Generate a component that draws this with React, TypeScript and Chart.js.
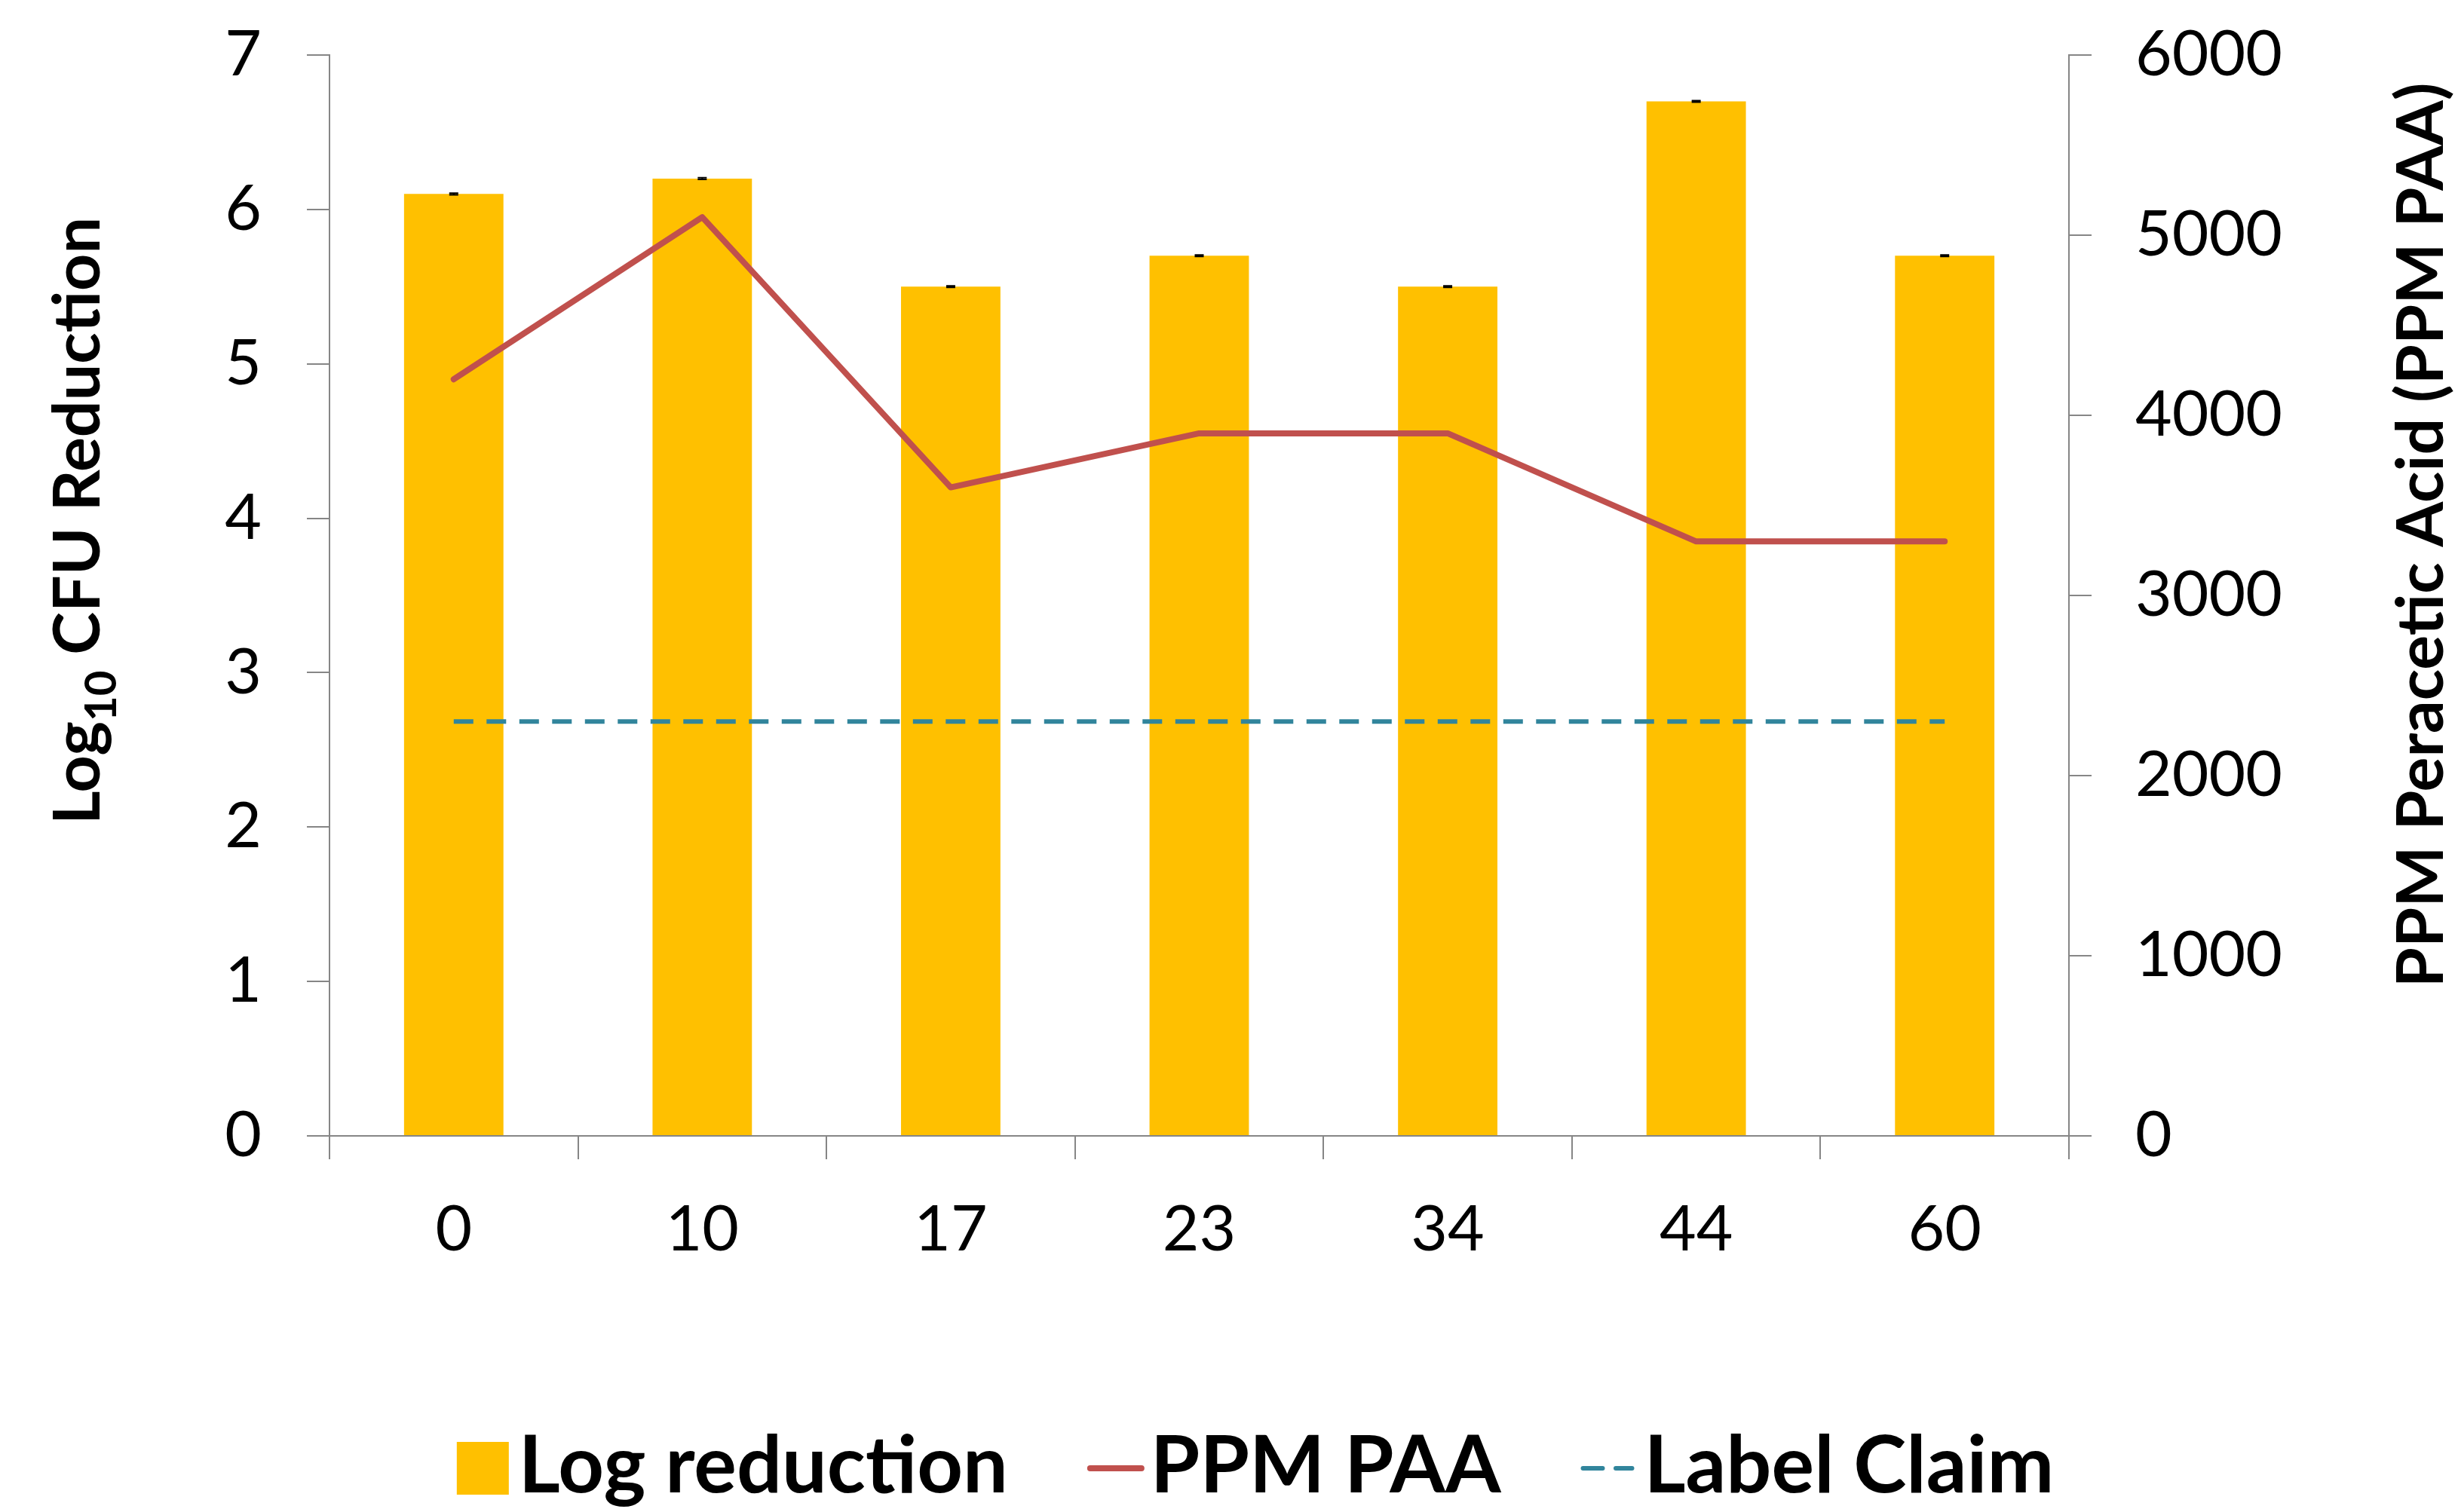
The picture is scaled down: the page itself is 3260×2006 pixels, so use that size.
import React, { useEffect, useRef } from 'react';
import { Chart, registerables } from 'chart.js';

Chart.register(...registerables);

const categories = ['0', '10', '17', '23', '34', '44', '60'];
const logReduction = [6.1, 6.2, 5.5, 5.7, 5.5, 6.7, 5.7];
const logReductionError = [0.005, 0.005, 0.005, 0.005, 0.005, 0.005, 0.005];
const ppmPAA = [4200, 5100, 3600, 3900, 3900, 3300, 3300];
const labelClaim = [2300, 2300, 2300, 2300, 2300, 2300, 2300];

const seriesNames = ['Log reduction', 'PPM PAA', 'Label Claim'];
const leftTitleParts = ['Log', '10', ' CFU Reduction'];
const rightTitle = 'PPM Peracetic Acid (PPM PAA)';

const FONT = 'Lato';
const BAR_COLOR = '#FFC000';
const LINE_COLOR = '#C0504D';
const CLAIM_COLOR = '#31859C';
const AXIS_COLOR = '#868686';

const errorBarsPlugin = {
  id: 'errorBars',
  afterDatasetsDraw(chart: any) {
    const ctx = chart.ctx;
    const meta = chart.getDatasetMeta(0);
    const y = chart.scales.y;
    ctx.save();
    ctx.strokeStyle = '#000';
    ctx.lineWidth = 2;
    meta.data.forEach((bar: any, i: number) => {
      const v = logReduction[i];
      const e = logReductionError[i];
      const yTop = y.getPixelForValue(v + e);
      const yBot = y.getPixelForValue(v - e);
      const half = 6;
      ctx.beginPath();
      ctx.moveTo(bar.x, yTop);
      ctx.lineTo(bar.x, yBot);
      ctx.moveTo(bar.x - half, yTop);
      ctx.lineTo(bar.x + half, yTop);
      ctx.moveTo(bar.x - half, yBot);
      ctx.lineTo(bar.x + half, yBot);
      ctx.stroke();
    });
    ctx.restore();
  },
};

const titlesPlugin = {
  id: 'axisTitles',
  afterDraw(chart: any) {
    const ctx = chart.ctx;
    ctx.save();
    ctx.fillStyle = '#000';
    ctx.textBaseline = 'alphabetic';
    ctx.textAlign = 'left';
    const mainFont = `bold 86px ${FONT}`;
    const subFont = `bold 58px ${FONT}`;
    ctx.font = mainFont;
    const w0 = ctx.measureText(leftTitleParts[0]).width;
    const w2 = ctx.measureText(leftTitleParts[2]).width;
    ctx.font = subFont;
    const w1 = ctx.measureText(leftTitleParts[1]).width;
    const total = w0 + w1 + w2;
    ctx.save();
    ctx.translate(132, 691);
    ctx.rotate(-Math.PI / 2);
    let x = -total / 2;
    ctx.font = mainFont;
    ctx.fillText(leftTitleParts[0], x, 0);
    x += w0;
    ctx.font = subFont;
    ctx.fillText(leftTitleParts[1], x, 22);
    x += w1;
    ctx.font = mainFont;
    ctx.fillText(leftTitleParts[2], x, 0);
    ctx.restore();
    ctx.save();
    ctx.translate(3240, 710);
    ctx.rotate(-Math.PI / 2);
    ctx.font = mainFont;
    ctx.textAlign = 'center';
    ctx.fillText(rightTitle, 0, 0);
    ctx.restore();
    ctx.restore();
  },
};

const legendPlugin = {
  id: 'customLegend',
  afterDraw(chart: any) {
    const ctx = chart.ctx;
    const ds = chart.data.datasets;
    ctx.save();
    ctx.font = `bold 106px ${FONT}`;
    ctx.textBaseline = 'alphabetic';
    ctx.fillStyle = '#000';
    const baseline = 1980;
    const midY = 1948;
    const symW = [69, 76, 73];
    const symGap = [13, 8, 12];
    const itemGap = 105;
    const textW = ds.map((d: any) => ctx.measureText(d.label).width);
    let total = 0;
    for (let i = 0; i < ds.length; i++) {
      total += symW[i] + symGap[i] + textW[i];
      if (i < ds.length - 1) total += itemGap;
    }
    let x = 1665 - total / 2;
    for (let i = 0; i < ds.length; i++) {
      const d = ds[i];
      if (i === 0) {
        ctx.fillStyle = d.backgroundColor;
        ctx.fillRect(x, 1913, symW[i], 70);
      } else {
        ctx.save();
        ctx.strokeStyle = d.borderColor;
        ctx.lineWidth = d.borderWidth;
        ctx.lineCap = 'round';
        ctx.setLineDash(d.borderDash || []);
        ctx.beginPath();
        ctx.moveTo(x + 4, midY);
        ctx.lineTo(x + symW[i] - 4, midY);
        ctx.stroke();
        ctx.restore();
      }
      x += symW[i] + symGap[i];
      ctx.fillStyle = '#000';
      ctx.fillText(d.label, x, baseline);
      x += textW[i] + itemGap;
    }
    ctx.restore();
  },
};

export default function App() {
  const canvasRef = useRef<HTMLCanvasElement | null>(null);

  useEffect(() => {
    document.body.style.margin = '0';
    let chart: Chart | null = null;
    let cancelled = false;
    const build = () => {
      if (cancelled || !canvasRef.current) return;
      const tickFont = { family: FONT, size: 84 };
      chart = new Chart(canvasRef.current, {
        type: 'bar',
        data: {
          labels: categories,
          datasets: [
            {
              type: 'bar',
              label: seriesNames[0],
              data: logReduction,
              backgroundColor: BAR_COLOR,
              borderWidth: 0,
              yAxisID: 'y',
              categoryPercentage: 1,
              barPercentage: 0.4,
              order: 3,
            } as any,
            {
              type: 'line',
              label: seriesNames[1],
              data: ppmPAA,
              borderColor: LINE_COLOR,
              backgroundColor: LINE_COLOR,
              borderWidth: 8,
              pointRadius: 0,
              tension: 0,
              borderCapStyle: 'round',
              borderJoinStyle: 'round',
              yAxisID: 'y2',
              order: 1,
            } as any,
            {
              type: 'line',
              label: seriesNames[2],
              data: labelClaim,
              borderColor: CLAIM_COLOR,
              backgroundColor: CLAIM_COLOR,
              borderWidth: 6,
              borderDash: [26, 17.5],
              pointRadius: 0,
              tension: 0,
              yAxisID: 'y2',
              order: 2,
            } as any,
          ],
        },
        options: {
          responsive: false,
          animation: false,
          devicePixelRatio: 1,
          layout: { padding: { top: 73, left: 0, right: 0, bottom: 0 } },
          plugins: {
            legend: { display: false },
            tooltip: { enabled: false },
          },
          scales: {
            x: {
              offset: true,
              grid: {
                offset: true,
                drawOnChartArea: false,
                drawTicks: true,
                tickLength: 31,
                color: AXIS_COLOR,
                lineWidth: 2,
              },
              border: { color: AXIS_COLOR, width: 2 },
              ticks: { color: '#000', font: tickFont, padding: 44, maxRotation: 0, autoSkip: false },
              afterFit: (s: any) => {
                s.height = 499;
                s.paddingLeft = 0;
                s.paddingRight = 0;
              },
            },
            y: {
              position: 'left',
              min: 0,
              max: 7,
              grid: {
                drawOnChartArea: false,
                drawTicks: true,
                tickLength: 30,
                color: AXIS_COLOR,
                lineWidth: 2,
              },
              border: { color: AXIS_COLOR, width: 2 },
              ticks: { stepSize: 1, color: '#000', font: tickFont, padding: 60 },
              afterFit: (s: any) => {
                s.width = 437;
                s.paddingTop = 0;
                s.paddingBottom = 0;
              },
            },
            y2: {
              position: 'right',
              min: 0,
              max: 6000,
              grid: {
                drawOnChartArea: false,
                drawTicks: true,
                tickLength: 30,
                color: AXIS_COLOR,
                lineWidth: 2,
              },
              border: { color: AXIS_COLOR, width: 2 },
              ticks: {
                stepSize: 1000,
                color: '#000',
                font: tickFont,
                padding: 58,
                callback: (v: any) => String(v),
              },
              afterFit: (s: any) => {
                s.width = 516;
                s.paddingTop = 0;
                s.paddingBottom = 0;
              },
            },
          },
        } as any,
        plugins: [errorBarsPlugin, titlesPlugin, legendPlugin],
      });
    };
    const fontsReady = (document as any).fonts
      ? Promise.all([
          (document as any).fonts.load(`84px ${FONT}`),
          (document as any).fonts.load(`bold 100px ${FONT}`),
        ]).catch(() => null)
      : Promise.resolve(null);
    fontsReady.then(build);
    return () => {
      cancelled = true;
      if (chart) chart.destroy();
    };
  }, []);

  return (
    <div style={{ width: 3260, height: 2006, background: '#fff' }}>
      <canvas ref={canvasRef} width={3260} height={2006} style={{ display: 'block', width: 3260, height: 2006 }} />
    </div>
  );
}
